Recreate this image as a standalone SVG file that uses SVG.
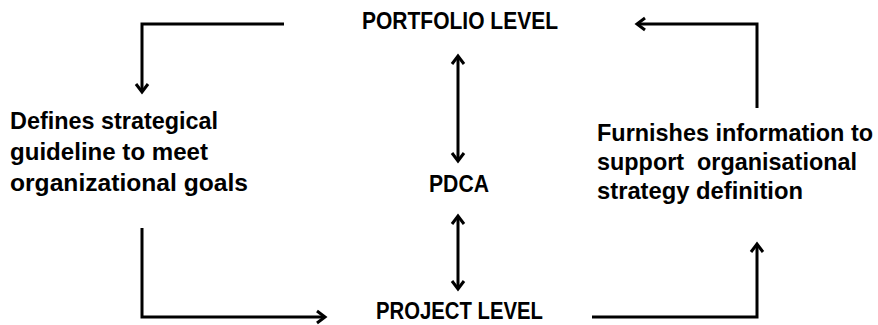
<svg xmlns="http://www.w3.org/2000/svg" width="878" height="325" viewBox="0 0 878 325">
  <defs>
    <style>
      .t { font-family: "Liberation Sans", Arial, sans-serif; font-weight: bold; font-size: 24px; fill: #000; white-space: pre; }
      .c { fill: none; stroke: #000; stroke-width: 3; stroke-linejoin: miter; }
    </style>
    <marker id="ah" markerUnits="userSpaceOnUse" viewBox="-12 -9 15 18" markerWidth="15" markerHeight="18" refX="0" refY="0" orient="auto-start-reverse">
      <path d="M-8,-6 L0,0 L-8,6" fill="none" stroke="#000" stroke-width="3"/>
    </marker>
  </defs>
  <rect width="878" height="325" fill="#fff"/>

  <g id="portfolio"><text class="t" x="362" y="29" textLength="196" lengthAdjust="spacingAndGlyphs">PORTFOLIO LEVEL</text></g>
  <g id="pdca"><text class="t" x="429" y="192" textLength="60" lengthAdjust="spacingAndGlyphs">PDCA</text></g>
  <g id="project"><text class="t" x="376" y="319" textLength="167" lengthAdjust="spacingAndGlyphs">PROJECT LEVEL</text></g>
  <g id="defines">
    <text class="t" x="10" y="129" textLength="208" lengthAdjust="spacingAndGlyphs">Defines strategical</text>
    <text class="t" x="10" y="160" textLength="198" lengthAdjust="spacingAndGlyphs">guideline to meet</text>
    <text class="t" x="10" y="191" textLength="238" lengthAdjust="spacingAndGlyphs">organizational goals</text>
  </g>
  <g id="furnishes">
    <text class="t" x="597" y="141" textLength="276" lengthAdjust="spacingAndGlyphs">Furnishes information to</text>
    <text class="t" x="597" y="170" textLength="260" lengthAdjust="spacingAndGlyphs">support  organisational</text>
    <text class="t" x="597" y="199" textLength="206" lengthAdjust="spacingAndGlyphs">strategy definition</text>
  </g>

  <g id="connectors">
    <polyline class="c" points="284,24 142,24 142,92" marker-end="url(#ah)"/>
    <polyline class="c" points="757,108 757,24 637,24" marker-end="url(#ah)"/>
    <line class="c" x1="458" y1="56" x2="458" y2="161" marker-start="url(#ah)" marker-end="url(#ah)"/>
    <line class="c" x1="458" y1="216" x2="458" y2="289" marker-start="url(#ah)" marker-end="url(#ah)"/>
    <polyline class="c" points="142,228 142,317 325,317" marker-end="url(#ah)"/>
    <polyline class="c" points="592,317 757,317 757,244" marker-end="url(#ah)"/>
  </g>
</svg>
